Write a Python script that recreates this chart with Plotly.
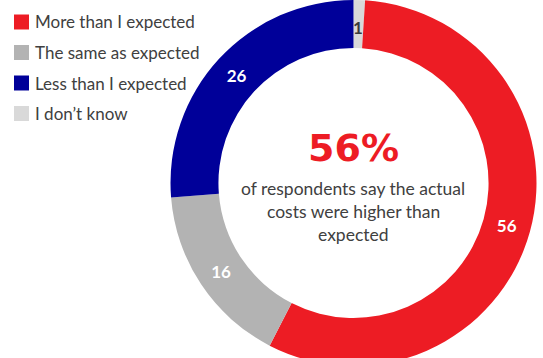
import math
import plotly.graph_objects as go

# Survey answers, in legend order
categories = ["More than I expected", "The same as expected", "Less than I expected", "I don\u2019t know"]
shares = [56, 16, 26, 1]
colors = ["#ED1C24", "#B3B3B3", "#000099", "#D9D9D9"]
label_colors = ["#FFFFFF", "#FFFFFF", "#FFFFFF", "#3A3A3A"]

headline = "56%"
headline_lines = ["of respondents say the actual", "costs were higher than", "expected"]

# the ring starts at 12 o'clock with "I don't know", then runs clockwise
ring_order = [3, 0, 1, 2]

W, H = 543, 366
CX, CY, R = 353.5, 183.0, 183.0
HOLE = 0.738
TEXT = "#404040"
FONT = "Lato, 'Open Sans', sans-serif"


def px(x):
    return x / W


def py(y):
    return 1 - y / H


ring_vals = [shares[i] for i in ring_order]
# the thinnest slice is labelled separately, just outside the ring centre line
thin = min(range(len(ring_vals)), key=lambda j: ring_vals[j])
templates = ["" if j == thin else "%{value}" for j in range(len(ring_vals))]

fig = go.Figure(
    go.Pie(
        labels=[categories[i] for i in ring_order],
        values=ring_vals,
        marker=dict(colors=[colors[i] for i in ring_order], line=dict(width=0)),
        hole=HOLE,
        sort=False,
        direction="clockwise",
        rotation=0,
        texttemplate=templates,
        textposition="inside",
        insidetextorientation="horizontal",
        textfont=dict(family=FONT, size=17, weight="bold",
                      color=[label_colors[i] for i in ring_order]),
        domain=dict(x=[px(CX - R), px(CX + R)], y=[0, 1]),
        showlegend=False,
        hoverinfo="label+value",
    )
)

shapes = []
annotations = []

# label for the thin slice, placed on its bisector
total = sum(ring_vals)
before = sum(ring_vals[:thin])
theta = 2 * math.pi * (before + ring_vals[thin] / 2) / total
r_lab = R * 0.85
annotations.append(dict(text=str(ring_vals[thin]),
                        x=px(CX + r_lab * math.sin(theta)), y=py(CY - r_lab * math.cos(theta)),
                        xref="paper", yref="paper", xanchor="center", yanchor="middle",
                        showarrow=False,
                        font=dict(family=FONT, size=17, weight="bold",
                                  color=label_colors[ring_order[thin]])))

# hand-drawn legend: coloured squares with labels
row0, step = 22.0, 30.5
for k, (name, col) in enumerate(zip(categories, colors)):
    yc = row0 + k * step
    shapes.append(dict(type="rect", xref="paper", yref="paper",
                       x0=px(14), x1=px(29), y0=py(yc - 7.5), y1=py(yc + 7.5),
                       fillcolor=col, line=dict(width=0)))
    annotations.append(dict(text=name, x=px(32.5), y=py(yc), xref="paper", yref="paper",
                            xanchor="left", yanchor="middle", showarrow=False,
                            font=dict(family=FONT, size=17, color=TEXT)))

# centre statement
annotations.append(dict(text=headline, x=px(353.5), y=py(148), xref="paper", yref="paper",
                        xanchor="center", yanchor="middle", showarrow=False,
                        font=dict(family="'DejaVu Sans', sans-serif", size=38, weight="bold",
                                  color="#ED1C24")))
for k, line in enumerate(headline_lines):
    annotations.append(dict(text=line, x=px(353), y=py(188 + k * 23.3), xref="paper", yref="paper",
                            xanchor="center", yanchor="middle", showarrow=False,
                            font=dict(family=FONT, size=17.5, color=TEXT)))

fig.update_layout(
    width=W,
    height=H,
    margin=dict(l=0, r=0, t=0, b=0),
    paper_bgcolor="#FFFFFF",
    plot_bgcolor="#FFFFFF",
    shapes=shapes,
    annotations=annotations,
)

fig.write_html("out.html")
